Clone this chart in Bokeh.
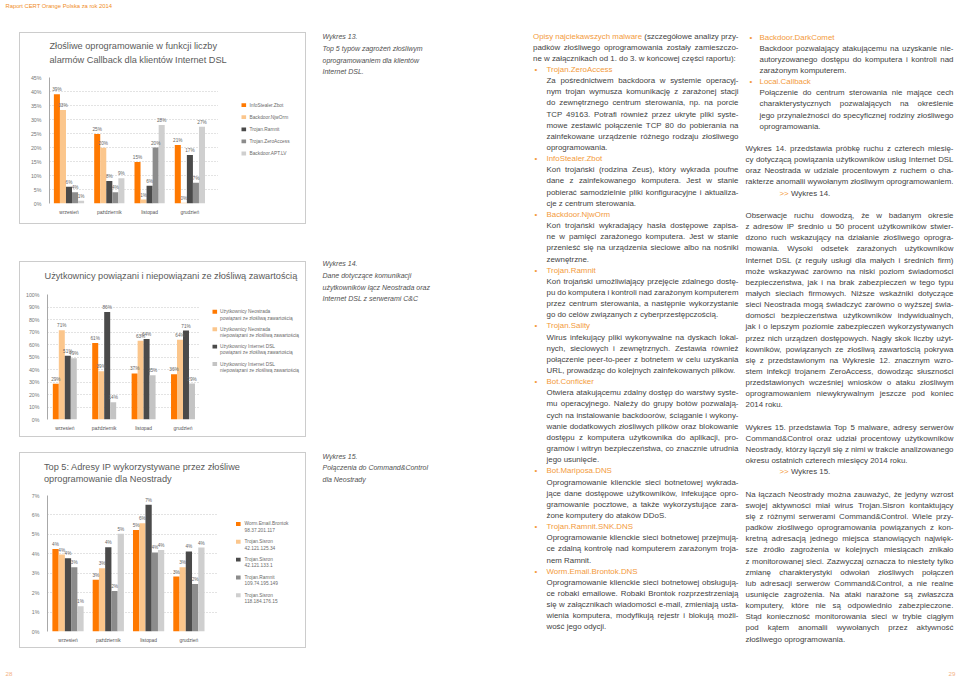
from bokeh.plotting import figure
from bokeh.models import (Range1d, FixedTicker, PrintfTickFormatter, LabelSet, ColumnDataSource, Spacer)
from bokeh.layouts import row, column
from bokeh.core.properties import value
from bokeh.embed import file_html
from bokeh.resources import INLINE

FONT = "Liberation Sans"

# ---------------- data ----------------
months = ["wrzesień", "październik", "listopad", "grudzień"]

c1_title = ["Złośliwe oprogramowanie w funkcji liczby", "alarmów Callback dla klientów Internet DSL"]
c1_names = ["InfoStealer.Zbot", "Backdoor.NjwOrm", "Trojan.Ramnit", "Trojan.ZeroAccess", "Backdoor.APT.LV"]
c1_zbot = [39.0, 24.8, 14.8, 20.9]
c1_njworm = [33.4, 19.9, 1.4, 0.3]
c1_ramnit = [6.0, 8.0, 6.3, 17.3]
c1_zeroaccess = [4.0, 4.0, 20.0, 7.4]
c1_aptlv = [1.0, 9.0, 28.0, 27.4]
c1_ticks = [0, 5, 10, 15, 20, 25, 30, 35, 40, 45]

c2_title = ["Użytkownicy powiązani i niepowiązani ze złośliwą zawartością"]
c2_names = ["Użytkownicy Neostrada", "Użytkownicy Neostrada", "Użytkownicy Internet DSL", "Użytkownicy Internet DSL"]
c2_sub = ["powiązani ze złośliwą zawartością", "niepowiązani ze złośliwą zawartością",
          "powiązani ze złośliwą zawartością", "niepowiązani ze złośliwą zawartością"]
c2_neo_pos = [28.6, 61.3, 36.9, 36.2]
c2_neo_neg = [71.4, 38.7, 63.1, 63.8]
c2_dsl_pos = [51.0, 86.1, 64.4, 71.2]
c2_dsl_neg = [49.0, 13.9, 35.4, 28.8]
c2_ticks = [0, 10, 20, 30, 40, 50, 60, 70, 80, 90, 100]

c3_title = ["Top 5: Adresy IP wykorzystywane przez złośliwe", "oprogramowanie dla Neostrady"]
c3_names = ["Worm.Email.Brontok", "Trojan.Sisron", "Trojan.Sisron", "Trojan.Ramnit", "Trojan.Sisron"]
c3_sub = ["98.37.201.117", "42.121.125.34", "42.121.133.1", "109.74.195.149", "118.184.176.15"]
c3_brontok = [4.25, 2.66, 5.23, 2.83]
c3_sisron_a = [3.96, 3.26, 5.57, 3.31]
c3_sisron_b = [3.77, 4.34, 6.52, 4.12]
c3_ramnit = [3.31, 2.08, 4.07, 2.45]
c3_sisron_c = [1.30, 5.03, 4.19, 4.32]
c3_ticks = [0, 1, 2, 3, 4, 5, 6, 7]

ORANGE, LORANGE, DARK, MID, LIGHT = "#ff7900", "#fbc68c", "#4a4a4a", "#8c8c8c", "#cfcfcf"
LIGHT2 = "#c4c4c4"
LEGTXT = "#6a6a6a"
LEGFS = "4.8px"


def canvas(w, h, xr, yr):
    f = figure(width=w, height=h, x_range=Range1d(*xr), y_range=Range1d(*yr),
               min_border=0, x_axis_location=None, y_axis_location=None,
               toolbar_location=None, output_backend="svg", tools="")
    f.grid.visible = False
    f.outline_line_color = None
    return f


def make_chart(geo, title_lines, names, subs, series, colors, yticks):
    ix0, iy0, ix1, iy1 = geo["inner"]
    fl, ft, fr, fb = geo["frame"]
    top_pad = 6
    ppu = geo["ppu"]
    xs = -(geo["c0"] - fl) / ppu
    xe = xs + (fr - fl) / ppu
    ymax = yticks[-1]

    # title strip
    tfig = canvas(ix1 - ix0, ft - top_pad - iy0, (ix0, ix1), (ft - top_pad, iy0))
    tfig.text(x=[geo["title_x"]] * len(title_lines), y=geo["title_y"], text=title_lines,
              text_font=value(FONT), text_font_size=value("9.2px"), text_color="#5a5a5a",
              text_baseline="middle", text_align="left")

    # plot
    p = figure(width=fr - ix0, height=iy1 - (ft - top_pad), x_range=Range1d(xs, xe),
               y_range=Range1d(0, ymax),
               min_border_left=fl - ix0, min_border_right=0,
               min_border_top=top_pad, min_border_bottom=iy1 - fb,
               toolbar_location=None, output_backend="svg", tools="")
    p.outline_line_color = None

    n = len(series)
    bw = geo["bw"]
    for k, (vals, col) in enumerate(zip(series, colors)):
        off = (k - (n - 1) / 2) * bw
        src = ColumnDataSource(dict(x=[i + off for i in range(len(months))], top=vals,
                                    lab=["%d%%" % round(v) for v in vals]))
        p.vbar(x="x", top="top", width=bw, source=src, fill_color=col, line_color=None)
        p.add_layout(LabelSet(x="x", y="top", text="lab", source=src, y_offset=2,
                              text_align="center", text_baseline="bottom",
                              text_font=value(FONT), text_font_size=value("4.7px"),
                              text_color="#666666"))

    p.yaxis.ticker = FixedTicker(ticks=yticks)
    p.yaxis.formatter = PrintfTickFormatter(format="%d%%")
    p.yaxis.major_label_text_font = FONT
    p.yaxis.major_label_text_font_size = "5.3px"
    p.yaxis.major_label_text_color = "#777777"
    p.yaxis.axis_line_color = "#a8a8a8"
    p.yaxis.major_tick_line_color = None
    p.yaxis.minor_tick_line_color = None
    p.yaxis.major_tick_out = 0
    p.yaxis.major_tick_in = 0
    p.yaxis.major_label_standoff = 8
    p.ygrid.ticker = FixedTicker(ticks=yticks)
    p.ygrid.grid_line_color = "#b8b8b8"
    p.ygrid.grid_line_dash = "1 2"
    p.ygrid.grid_line_width = 0.8
    p.xgrid.visible = False

    p.xaxis.ticker = FixedTicker(ticks=list(range(len(months))))
    p.xaxis.major_label_overrides = {i: m for i, m in enumerate(months)}
    p.xaxis.major_label_text_font = FONT
    p.xaxis.major_label_text_font_size = "4.9px"
    p.xaxis.major_label_text_color = "#555555"
    p.xaxis.axis_line_color = None
    p.xaxis.major_tick_line_color = None
    p.xaxis.minor_tick_line_color = None
    p.xaxis.major_tick_out = 0
    p.xaxis.major_tick_in = 0
    p.xaxis.major_label_standoff = 6

    # legend strip (keys built from the series names / colours)
    lf = canvas(ix1 - fr, iy1 - (ft - top_pad), (fr, ix1), (iy1, ft - top_pad))
    lg = geo["legend"]
    sq = 4.6
    ys = [lg["y"] + k * lg["pitch"] for k in range(len(names))]
    lf.rect(x=[lg["x"] + sq / 2] * len(names), y=ys, width=sq, height=sq,
            fill_color=colors, line_color=None)
    tx = lg["x"] + sq + lg["st"]
    lf.text(x=[tx] * len(names), y=ys, text=names, text_font=value(FONT),
            text_font_size=value(LEGFS), text_color=LEGTXT, text_baseline="middle", text_align="left")
    if subs:
        lf.text(x=[tx] * len(subs), y=[v + lg["dy2"] for v in ys],
                text=subs, text_font=value(FONT), text_font_size=value(LEGFS),
                text_color=LEGTXT, text_baseline="middle", text_align="left")

    return column(tfig, row(p, lf), styles={"border": "1px solid #cccccc"})


geo1 = dict(inner=(20, 33, 305, 223), frame=(49, 77, 218, 203), c0=68.5, ppu=40.3, bw=0.15,
            title_x=49, title_y=[45.7, 59.0], legend=dict(x=241, y=104.3, pitch=14.6, st=3.4, dy2=0))
geo2 = dict(inner=(20, 262, 305, 436), frame=(47, 294, 200, 419), c0=64.3, ppu=39.4, bw=0.152,
            title_x=44, title_y=[275.7], legend=dict(x=212, y=308.5, pitch=20.6, st=3, dy2=7.5))
geo3 = dict(inner=(20, 453, 305, 647), frame=(47, 495, 217, 631), c0=67.5, ppu=40.3, bw=0.155,
            title_x=43.5, title_y=[466.0, 478.3], legend=dict(x=235.5, y=522, pitch=20.75, st=4, dy2=6.7))

ch1 = make_chart(geo1, c1_title, c1_names, None,
                 [c1_zbot, c1_njworm, c1_ramnit, c1_zeroaccess, c1_aptlv],
                 [ORANGE, LORANGE, DARK, MID, LIGHT], c1_ticks)
ch2 = make_chart(geo2, c2_title, c2_names, c2_sub,
                 [c2_neo_pos, c2_neo_neg, c2_dsl_pos, c2_dsl_neg],
                 [ORANGE, LORANGE, DARK, LIGHT2], c2_ticks)
ch3 = make_chart(geo3, c3_title, c3_names, c3_sub,
                 [c3_brontok, c3_sisron_a, c3_sisron_b, c3_ramnit, c3_sisron_c],
                 [ORANGE, LORANGE, DARK, MID, LIGHT], c3_ticks)

# ---------------- text ----------------
AW = {}
for chars, w in [("ijlł'", 222), (" !,./:;I[]ft", 278), ("()-r`", 333), ("•", 350),
                 ("cksvxyzJćśźż", 500), ("abdeghnopqu0123456789#$_?LąęńóŁ", 556),
                 ("+<=>~", 584), ("FTZŻŹ", 611), ("ABEKPSVXY&ŚĘĄ", 667),
                 ("CDHNRUwŃĆ", 722), ("GOQÓ", 778), ("mM", 833), ("%", 889), ("W", 944), ("@", 1015)]:
    for ch in chars:
        AW[ch] = w


def tw(s, fs):
    return sum(AW.get(ch, 556) for ch in s) / 1000.0 * fs


BODY, ACC = "#3f3f3f", "#f39a3b"
FS, PITCH = 7.9, 11.15

col3 = [
    ("p", ["^Opisy ^najciekawszych ^malware (szczegółowe analizy przy-",
           "padków złośliwego oprogramowania zostały zamieszczo-",
           "ne w załącznikach od 1. do 3. w końcowej części raportu):"]),
    ("h", "Trojan.ZeroAccess"),
    ("i", ["Za pośrednictwem backdoora w systemie operacyj-",
           "nym trojan wymusza komunikację z zarażonej stacji",
           "do zewnętrznego centrum sterowania, np. na porcie",
           "TCP 49163. Potrafi również przez ukryte pliki syste-",
           "mowe zestawić połączenie TCP 80 do pobierania na",
           "zainfekowane urządzenie różnego rodzaju złośliwego",
           "oprogramowania."]),
    ("h", "InfoStealer.Zbot"),
    ("i", ["Koń trojański (rodzina Zeus), który wykrada poufne",
           "dane z zainfekowanego komputera. Jest w stanie",
           "pobierać samodzielnie pliki konfiguracyjne i aktualiza-",
           "cje z centrum sterowania."]),
    ("h", "Backdoor.NjwOrm"),
    ("i", ["Koń trojański wykradający hasła dostępowe zapisa-",
           "ne w pamięci zarażonego komputera. Jest w stanie",
           "przenieść się na urządzenia sieciowe albo na nośniki",
           "zewnętrzne."]),
    ("h", "Trojan.Ramnit"),
    ("i", ["Koń trojański umożliwiający przejęcie zdalnego dostę-",
           "pu do komputera i kontroli nad zarażonym komputerem",
           "przez centrum sterowania, a następnie wykorzystanie",
           "go do celów związanych z cyberprzestępczością."]),
    ("h", "Trojan.Sality"),
    ("i", ["Wirus infekujący pliki wykonywalne na dyskach lokal-",
           "nych, sieciowych i zewnętrznych. Zestawia również",
           "połączenie peer-to-peer z botnetem w celu uzyskania",
           "URL, prowadząc do kolejnych zainfekowanych plików."]),
    ("h", "Bot.Conficker"),
    ("i", ["Otwiera atakującemu zdalny dostęp do warstwy syste-",
           "mu operacyjnego. Należy do grupy botów pozwalają-",
           "cych na instalowanie backdoorów, ściąganie i wykony-",
           "wanie dodatkowych złośliwych plików oraz blokowanie",
           "dostępu z komputera użytkownika do aplikacji, pro-",
           "gramów i witryn bezpieczeństwa, co znacznie utrudnia",
           "jego usunięcie."]),
    ("h", "Bot.Mariposa.DNS"),
    ("i", ["Oprogramowanie klienckie sieci botnetowej wykrada-",
           "jące dane dostępowe użytkowników, infekujące opro-",
           "gramowanie pocztowe, a także wykorzystujące zara-",
           "żone komputery do ataków DDoS."]),
    ("h", "Trojan.Ramnit.SNK.DNS"),
    ("i", ["Oprogramowanie klienckie sieci botnetowej przejmują-",
           "ce zdalną kontrolę nad komputerem zarażonym troja-",
           "nem Ramnit."]),
    ("h", "Worm.Email.Brontok.DNS"),
    ("i", ["Oprogramowanie klienckie sieci botnetowej obsługują-",
           "ce robaki emailowe. Robaki Brontok rozprzestrzeniają",
           "się w załącznikach wiadomości e-mail, zmieniają usta-",
           "wienia komputera, modyfikują rejestr i blokują możli-",
           "wość jego odycji."]),
]

col4 = [
    ("h", "Backdoor.DarkComet"),
    ("i", ["Backdoor pozwalający atakującemu na uzyskanie nie-",
           "autoryzowanego dostępu do komputera i kontroli nad",
           "zarażonym komputerem."]),
    ("h", "Local.Callback"),
    ("i", ["Połączenie do centrum sterowania nie mające cech",
           "charakterystycznych pozwalających na określenie",
           "jego przynależności do specyficznej rodziny złośliwego",
           "oprogramowania."]),
    ("blank",),
    ("p", ["Wykres 14. przedstawia próbkę ruchu z czterech miesię-",
           "cy dotyczącą powiązania użytkowników usług Internet DSL",
           "oraz Neostrada w udziale procentowym z ruchem o cha-",
           "rakterze anomalii wywołanym złośliwym oprogramowaniem."]),
    ("ref", "Wykres 14."),
    ("blank",),
    ("p", ["Obserwacje ruchu dowodzą, że w badanym okresie",
           "z adresów IP średnio u 50 procent użytkowników stwier-",
           "dzono ruch wskazujący na działanie złośliwego oprogra-",
           "mowania. Wysoki odsetek zarażonych użytkowników",
           "Internet DSL (z reguły usługi dla małych i średnich firm)",
           "może wskazywać zarówno na niski poziom świadomości",
           "bezpieczeństwa, jak i na brak zabezpieczeń w tego typu",
           "małych sieciach firmowych. Niższe wskaźniki dotyczące",
           "sieci Neostrada mogą świadczyć zarówno o wyższej świa-",
           "domości bezpieczeństwa użytkowników indywidualnych,",
           "jak i o lepszym poziomie zabezpieczeń wykorzystywanych",
           "przez nich urządzeń dostępowych. Nagły skok liczby użyt-",
           "kowników, powiązanych ze złośliwą zawartością pokrywa",
           "się z przedstawionym na Wykresie 12. znacznym wzro-",
           "stem infekcji trojanem ZeroAccess, dowodząc słuszności",
           "przedstawionych wcześniej wniosków o ataku złośliwym",
           "oprogramowaniem niewykrywalnym jeszcze pod koniec",
           "2014 roku."]),
    ("blank",),
    ("p", ["Wykres 15. przedstawia Top 5 malware, adresy serwerów",
           "Command&Control oraz udział procentowy użytkowników",
           "Neostrady, którzy łączyli się z nimi w trakcie analizowanego",
           "okresu ostatnich czterech miesięcy 2014 roku."]),
    ("ref", "Wykres 15."),
    ("blank",),
    ("p", ["Na łączach Neostrady można zauważyć, że jedyny wzrost",
           "swojej aktywności miał wirus Trojan.Sisron kontaktujący",
           "się z różnymi serwerami Command&Control. Wiele przy-",
           "padków złośliwego oprogramowania powiązanych z kon-",
           "kretną adresacją jednego miejsca stanowiących najwięk-",
           "sze źródło zagrożenia w kolejnych miesiącach znikało",
           "z monitorowanej sieci. Zazwyczaj oznacza to niestety tylko",
           "zmianę charakterystyki odwołań złośliwych połączeń",
           "lub adresacji serwerów Command&Control, a nie realne",
           "usunięcie zagrożenia. Na ataki narażone są zwłaszcza",
           "komputery, które nie są odpowiednio zabezpieczone.",
           "Stąd konieczność monitorowania sieci w trybie ciągłym",
           "pod kątem anomalii wywołanych przez aktywność",
           "złośliwego oprogramowania."]),
]

captions = [
    (36.0, ["Wykres 13.", "Top 5 typów zagrożeń złośliwym", "oprogramowaniem dla klientów", "Internet DSL."]),
    (263.0, ["Wykres 14.", "Dane dotyczące komunikacji", "użytkowników łącz Neostrada oraz",
             "Internet DSL z serwerami C&C"]),
    (455.5, ["Wykres 15.", "Połączenia do Command&Control", "dla Neostrady"]),
]


def layout_col(blocks, xp, xb, xi, xr, xref, y0, out):
    y = y0
    for b in blocks:
        kind = b[0]
        if kind == "blank":
            y += PITCH
            continue
        if kind == "h":
            out.append((xb, y, "•", ACC, FS))
            out.append((xi, y, b[1], ACC, FS))
            y += PITCH
            continue
        if kind == "ref":
            out.append((xref, y, ">>", ACC, FS))
            out.append((xref + tw(">> ", FS), y, b[1], BODY, FS))
            y += PITCH
            continue
        x0 = xp if kind == "p" else xi
        width = xr - x0
        lines = b[1]
        for li, line in enumerate(lines):
            raw = line.split(" ")
            cols = [ACC if w.startswith("^") else BODY for w in raw]
            words = [w.lstrip("^") for w in raw]
            fs = FS
            ws = [tw(w, fs) for w in words]
            nat = sum(ws)
            n = len(words)
            last = li == len(lines) - 1
            space = tw(" ", fs)
            if n > 1 and not last:
                gap = (width - nat) / (n - 1)
                mg = 0.12 * fs
                if gap < mg:
                    sc = width / (nat + (n - 1) * mg)
                    fs *= sc
                    ws = [v * sc for v in ws]
                    gap = mg * sc
            else:
                gap = space
                tot = nat + (n - 1) * space
                if tot > width:
                    sc = width / tot
                    fs *= sc
                    ws = [v * sc for v in ws]
                    gap = space * sc
            x = x0
            for w, wd, c in zip(words, ws, cols):
                out.append((x, y, w, c, fs))
                x += wd + gap
            y += PITCH


items = []
layout_col(col3, 532.5, 534.0, 546.0, 738.0, 0, 35.5, items)
layout_col(col4, 745.0, 749.0, 759.0, 953.0, 779.0, 36.5, items)

tf = canvas(640, 679, (320, 960), (679, 0))
tsrc = ColumnDataSource(dict(x=[i[0] for i in items], y=[i[1] for i in items], t=[i[2] for i in items],
                             c=[i[3] for i in items], fs=["%.2fpx" % i[4] for i in items]))
tf.text(x="x", y="y", text="t", text_color="c", text_font_size="fs", source=tsrc,
        text_font=value(FONT), text_baseline="middle", text_align="left")

cx, cy, ct = [], [], []
for y0, lines in captions:
    for k, ln in enumerate(lines):
        cx.append(322.0)
        cy.append(y0 + k * 11.8)
        ct.append(ln)
tf.text(x=cx, y=cy, text=ct, text_color="#505050", text_font_size=value("7px"),
        text_font=value(FONT), text_font_style="italic", text_baseline="middle", text_align="left")
tf.text(x=[955.0], y=[673.0], text=["29"], text_color="#f4b183", text_font_size=value("6.2px"),
        text_font=value(FONT), text_baseline="middle", text_align="right")

hf = canvas(320, 32, (0, 320), (32, 0))
hf.text(x=[5.0], y=[5.0], text=["Raport CERT Orange Polska za rok 2014"], text_color="#f08c1e",
        text_font_size=value("5.8px"), text_font=value(FONT), text_baseline="middle", text_align="left")

ff = canvas(320, 31, (0, 320), (679, 648))
ff.text(x=[5.0], y=[673.0], text=["28"], text_color="#f4b183",
        text_font_size=value("6.2px"), text_font=value(FONT), text_baseline="middle", text_align="left")

left = column(hf,
              row(Spacer(width=19, height=192), ch1, Spacer(width=14, height=192)),
              Spacer(width=320, height=37),
              row(Spacer(width=19, height=176), ch2, Spacer(width=14, height=176)),
              Spacer(width=320, height=15),
              row(Spacer(width=19, height=196), ch3, Spacer(width=14, height=196)),
              ff)
page = row(left, tf)

open("out.html", "w").write(file_html(page, INLINE))
